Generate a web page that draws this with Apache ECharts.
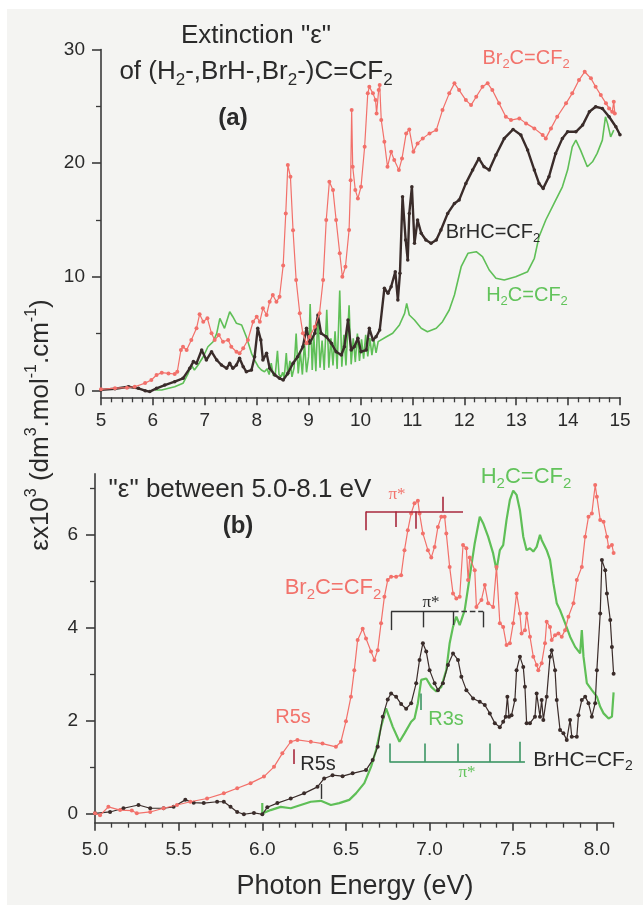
<!DOCTYPE html>
<html><head><meta charset="utf-8">
<script src="https://cdn.jsdelivr.net/npm/echarts@6/dist/echarts.min.js"></script>
<style>
html,body{margin:0;padding:0;background:#ffffff;width:643px;height:905px;overflow:hidden}
#c{position:absolute;left:7px;top:9px;width:636px;height:896px}
</style></head>
<body><div id="c"></div>
<script>
// ---------- Panel (a) data: Photon energy (eV), extinction x10^3 ----------
const a_Br2 = [[5.0,0.1],[5.27,0.2],[5.5,0.25],[5.65,0.33],[5.85,0.65],[5.97,0.92],[6.07,1.36],[6.17,1.57],[6.3,1.5],[6.42,1.45],[6.47,1.65],[6.54,3.56],[6.58,3.85],[6.65,3.56],[6.74,4.44],[6.84,5.47],[6.9,6.7],[6.97,6.05],[7.05,6.35],[7.13,5.03],[7.19,4.44],[7.27,4.88],[7.35,4.29],[7.45,4.44],[7.51,3.85],[7.61,3.41],[7.67,3.27],[7.74,3.71],[7.83,4.44],[7.93,6.05],[8.0,6.49],[8.06,6.05],[8.12,7.23],[8.19,6.64],[8.25,7.81],[8.31,8.4],[8.38,7.8],[8.44,8.25],[8.51,11.0],[8.56,15.58],[8.6,19.83],[8.65,18.8],[8.7,14.1],[8.76,9.72],[8.83,6.79],[8.89,5.03],[8.96,4.15],[9.02,4.73],[9.12,5.61],[9.21,6.79],[9.28,9.72],[9.34,15.0],[9.4,18.37],[9.47,17.63],[9.53,15.0],[9.6,12.07],[9.65,10.01],[9.71,10.89],[9.78,14.12],[9.81,18.5],[9.83,24.67],[9.85,19.68],[9.9,17.63],[9.95,16.9],[10.01,17.92],[10.08,21.44],[10.14,26.14],[10.17,26.72],[10.24,26.14],[10.29,25.55],[10.31,24.38],[10.35,26.43],[10.37,26.87],[10.4,23.79],[10.46,21.88],[10.52,19.68],[10.59,21.0],[10.65,20.27],[10.74,19.39],[10.8,20.42],[10.88,22.62],[10.94,22.97],[11.02,21.0],[11.1,21.74],[11.2,22.18],[11.33,22.62],[11.46,22.91],[11.58,24.67],[11.71,26.14],[11.81,27.02],[11.9,26.43],[12.03,25.55],[12.13,25.11],[12.23,25.84],[12.35,26.72],[12.45,27.02],[12.54,26.43],[12.67,25.26],[12.8,24.08],[12.9,23.79],[13.06,23.94],[13.19,23.5],[13.35,23.06],[13.51,22.47],[13.57,22.18],[13.67,23.06],[13.79,24.08],[13.96,25.26],[14.08,26.14],[14.21,27.31],[14.32,28.04],[14.44,27.46],[14.53,26.72],[14.63,25.99],[14.73,25.26],[14.79,24.82],[14.85,24.52],[14.88,25.4],[14.9,24.38]];
const a_BrH = [[5.0,0.05],[5.27,0.15],[5.53,0.33],[5.72,0.19],[5.85,-0.02],[5.94,-0.1],[6.07,0.19],[6.23,0.48],[6.42,0.77],[6.58,1.07],[6.71,1.95],[6.78,2.54],[6.84,2.39],[6.94,3.56],[7.03,2.68],[7.13,3.41],[7.23,2.68],[7.32,2.24],[7.42,1.95],[7.48,2.39],[7.54,1.95],[7.61,2.24],[7.67,2.83],[7.74,2.09],[7.8,1.65],[7.9,1.8],[7.96,2.97],[8.02,5.47],[8.08,4.44],[8.12,2.68],[8.19,3.27],[8.25,1.95],[8.35,1.36],[8.44,1.07],[8.51,0.92],[8.6,1.51],[8.7,2.39],[8.79,2.97],[8.89,3.85],[8.96,5.47],[9.02,4.15],[9.12,5.03],[9.18,6.64],[9.24,5.03],[9.34,4.73],[9.44,4.15],[9.53,3.41],[9.63,3.12],[9.69,3.85],[9.76,6.2],[9.82,3.56],[9.88,3.85],[9.95,4.59],[10.01,3.41],[10.11,3.56],[10.17,5.47],[10.24,4.44],[10.3,4.73],[10.37,5.32],[10.46,8.99],[10.53,8.55],[10.59,9.13],[10.67,10.45],[10.72,7.96],[10.76,10.31],[10.81,17.04],[10.87,13.24],[10.91,11.48],[10.94,15.58],[10.99,17.92],[11.04,12.95],[11.1,14.99],[11.17,13.83],[11.26,13.24],[11.36,12.95],[11.46,13.24],[11.55,14.12],[11.68,15.58],[11.81,16.46],[11.9,16.75],[12.03,18.22],[12.16,19.39],[12.28,20.42],[12.38,19.68],[12.48,19.39],[12.61,20.71],[12.77,22.18],[12.94,22.97],[13.09,22.47],[13.22,21.15],[13.35,19.39],[13.44,18.22],[13.52,17.78],[13.63,18.8],[13.76,20.86],[13.89,22.18],[13.99,22.76],[14.15,22.76],[14.28,23.35],[14.41,24.52],[14.53,24.96],[14.66,24.82],[14.79,24.08],[14.92,23.2],[15.0,22.5]];
const a_H2 = [[6.04,0.04],[6.17,0.04],[6.42,0.33],[6.58,0.63],[6.68,1.51],[6.74,2.24],[6.8,1.8],[6.87,2.24],[6.97,2.97],[7.06,3.85],[7.16,4.29],[7.23,5.03],[7.29,6.35],[7.38,5.47],[7.48,6.93],[7.54,6.49],[7.61,5.91],[7.71,5.76],[7.8,4.73],[7.9,3.27],[7.96,2.68],[8.03,2.09],[8.09,1.8],[8.15,1.65],[8.2,1.9],[8.24,1.4],[8.28,2.4],[8.32,1.3],[8.36,1.5],[8.4,3.5],[8.43,1.4],[8.47,1.2],[8.5,1.6],[8.53,1.1],[8.57,3.3],[8.6,1.3],[8.64,2.6],[8.68,1.2],[8.72,2.0],[8.76,5.0],[8.8,1.5],[8.84,3.4],[8.88,1.4],[8.92,4.2],[8.96,1.6],[9.0,3.0],[9.03,7.6],[9.07,1.8],[9.1,4.8],[9.14,1.7],[9.18,6.8],[9.22,2.0],[9.26,4.4],[9.3,1.8],[9.35,7.1],[9.39,2.0],[9.43,4.6],[9.47,2.2],[9.51,5.2],[9.55,1.9],[9.6,8.8],[9.64,2.1],[9.68,4.9],[9.72,2.2],[9.78,7.5],[9.82,2.3],[9.86,4.6],[9.9,2.5],[9.94,5.0],[9.98,2.6],[10.02,4.5],[10.06,2.8],[10.1,4.9],[10.14,3.0],[10.18,4.6],[10.22,3.1],[10.26,4.4],[10.3,3.3],[10.34,4.3],[10.37,4.15],[10.5,4.73],[10.62,5.03],[10.75,5.76],[10.85,6.79],[10.89,7.67],[10.94,6.64],[11.04,6.2],[11.17,5.47],[11.29,5.17],[11.46,5.47],[11.58,6.05],[11.71,7.08],[11.81,8.4],[11.94,10.89],[12.07,12.07],[12.23,12.21],[12.35,11.77],[12.48,10.6],[12.61,9.87],[12.77,9.72],[12.99,10.01],[13.22,10.45],[13.35,11.63],[13.44,13.53],[13.57,15.0],[13.73,16.46],[13.89,17.92],[13.99,19.39],[14.08,21.44],[14.15,22.03],[14.24,21.15],[14.37,19.68],[14.47,20.12],[14.56,20.86],[14.66,22.03],[14.72,24.08],[14.76,23.5],[14.82,22.32],[14.88,22.91]];

// ---------- Panel (b) data ----------
const b_Br2 = [[5.0,0.0],[5.03,-0.04],[5.08,0.14],[5.15,0.07],[5.22,0.06],[5.25,0.0],[5.33,0.03],[5.41,0.11],[5.49,0.18],[5.57,0.25],[5.67,0.32],[5.77,0.43],[5.85,0.54],[5.93,0.65],[6.01,0.79],[6.07,1.0],[6.12,1.29],[6.17,1.54],[6.21,1.58],[6.29,1.54],[6.36,1.5],[6.44,1.43],[6.47,1.54],[6.5,1.98],[6.53,2.51],[6.55,3.08],[6.57,3.73],[6.6,3.97],[6.62,3.76],[6.65,3.48],[6.67,3.3],[6.69,3.51],[6.71,4.09],[6.73,4.66],[6.75,5.02],[6.77,5.09],[6.8,5.09],[6.83,5.12],[6.85,5.66],[6.87,6.09],[6.89,6.45],[6.91,6.67],[6.93,6.72],[6.94,6.45],[6.96,6.02],[6.99,5.66],[7.01,5.5],[7.03,5.73],[7.05,6.16],[7.07,6.38],[7.09,6.38],[7.1,6.02],[7.12,5.3],[7.14,4.73],[7.16,4.62],[7.18,4.66],[7.2,5.77],[7.22,5.7],[7.23,5.02],[7.24,5.5],[7.27,5.23],[7.28,4.44],[7.31,4.59],[7.33,4.91],[7.35,4.52],[7.38,4.44],[7.4,5.3],[7.42,4.09],[7.44,4.01],[7.46,3.62],[7.48,3.66],[7.5,4.09],[7.52,4.73],[7.54,4.3],[7.55,3.87],[7.57,3.94],[7.58,4.3],[7.6,3.8],[7.62,3.37],[7.64,3.19],[7.65,3.08],[7.67,3.23],[7.69,3.66],[7.7,4.12],[7.72,4.01],[7.73,3.73],[7.75,3.83],[7.77,3.87],[7.79,3.8],[7.81,3.94],[7.83,4.23],[7.86,4.52],[7.88,5.02],[7.91,5.3],[7.93,5.95],[7.95,6.38],[7.97,6.45],[7.99,7.06],[8.0,6.81],[8.02,6.31],[8.04,6.27],[8.06,5.95],[8.07,5.73],[8.09,5.77],[8.1,5.6]];
const b_BrH = [[5.0,0.0],[5.09,0.03],[5.17,0.11],[5.26,0.18],[5.33,0.11],[5.41,0.11],[5.47,0.14],[5.54,0.29],[5.59,0.23],[5.65,0.22],[5.73,0.25],[5.77,0.25],[5.81,0.14],[5.85,0.03],[5.89,-0.02],[5.95,0.01],[6.0,-0.02],[6.03,0.13],[6.09,0.22],[6.17,0.32],[6.25,0.43],[6.33,0.57],[6.37,0.75],[6.42,0.82],[6.48,0.8],[6.54,0.86],[6.62,0.93],[6.66,1.15],[6.69,1.43],[6.72,2.08],[6.75,2.45],[6.77,2.58],[6.8,2.51],[6.83,2.35],[6.86,2.25],[6.89,2.37],[6.92,2.8],[6.94,3.3],[6.96,3.66],[6.98,3.48],[7.0,3.08],[7.03,2.8],[7.05,2.65],[7.08,2.8],[7.11,3.19],[7.14,3.44],[7.17,3.3],[7.19,2.94],[7.22,2.65],[7.26,2.47],[7.3,2.4],[7.33,2.33],[7.36,2.15],[7.39,1.94],[7.42,1.85],[7.44,1.97],[7.455,2.08],[7.465,2.51],[7.475,2.08],[7.49,2.11],[7.51,2.44],[7.52,3.08],[7.54,3.37],[7.56,3.15],[7.57,2.72],[7.58,1.94],[7.6,1.94],[7.63,2.08],[7.64,2.58],[7.66,2.08],[7.67,2.44],[7.68,2.01],[7.7,2.51],[7.72,3.37],[7.73,3.51],[7.75,3.08],[7.76,2.44],[7.78,1.79],[7.8,1.72],[7.82,1.58],[7.84,2.01],[7.85,1.65],[7.88,1.65],[7.89,2.11],[7.91,2.44],[7.93,2.51],[7.95,2.37],[7.97,2.08],[7.99,2.37],[8.0,3.08],[8.02,4.3],[8.03,5.45],[8.05,5.23],[8.06,4.73],[8.08,4.16],[8.09,3.58],[8.1,3.0]];
const b_H2 = [[6.0,0.22],[6.0,0.0],[6.05,0.07],[6.11,0.14],[6.17,0.11],[6.23,0.18],[6.29,0.25],[6.35,0.27],[6.41,0.18],[6.46,0.22],[6.52,0.29],[6.56,0.43],[6.61,0.65],[6.65,1.0],[6.68,1.36],[6.71,1.86],[6.74,2.26],[6.78,1.86],[6.82,1.54],[6.85,1.72],[6.89,1.97],[6.91,2.04],[6.93,2.37],[6.95,2.87],[6.98,2.9],[7.01,2.72],[7.04,2.62],[7.07,2.72],[7.1,3.08],[7.12,3.66],[7.14,4.01],[7.16,4.23],[7.18,4.05],[7.21,4.37],[7.24,5.09],[7.27,5.81],[7.3,6.38],[7.32,6.24],[7.35,5.95],[7.38,5.59],[7.4,5.23],[7.42,5.66],[7.44,5.77],[7.46,6.31],[7.48,6.74],[7.5,6.94],[7.52,6.85],[7.54,6.52],[7.56,5.95],[7.58,5.66],[7.6,5.7],[7.62,5.63],[7.64,5.73],[7.66,5.99],[7.67,5.88],[7.7,5.66],[7.72,5.45],[7.74,4.95],[7.76,4.52],[7.78,4.37],[7.81,4.09],[7.84,3.8],[7.87,3.58],[7.9,3.44],[7.91,3.94],[7.92,3.37],[7.94,2.8],[7.97,2.65],[8.0,2.51],[8.02,2.29],[8.04,2.15],[8.07,2.04],[8.09,2.08],[8.1,2.6]];

// progression markers (pi*, R5s, R3s) in data units: [[x1,y1],[x2,y2]]
const markRed = [[[6.62,6.09],[6.62,6.49]],[[6.62,6.49],[7.2,6.49]],[[6.8,6.49],[6.8,6.16]],[[6.92,6.49],[6.92,6.12]],[[7.08,6.49],[7.08,6.81]],[[6.19,1.38],[6.19,1.06]]];
const markBlack = [[[6.77,3.94],[6.77,4.34]],[[6.77,4.34],[7.14,4.34]],[[6.96,4.34],[6.96,4.0]],[[7.14,4.34],[7.14,4.05]],[[7.32,4.34],[7.32,4.0]],[[6.35,0.63],[6.35,0.31]]];
const markBlackDashed = [[[7.14,4.34],[7.32,4.34]]];
const markGreen = [[[6.76,1.11],[7.57,1.11]],[[6.76,1.11],[6.76,1.5]],[[6.97,1.11],[6.97,1.5]],[[7.17,1.11],[7.17,1.5]],[[7.36,1.11],[7.36,1.5]],[[7.54,1.11],[7.54,1.54]],[[6.95,2.58],[6.95,2.22]]];

// ticks
const aXTicks = [5,6,7,8,9,10,11,12,13,14,15];
const aXMinor = [5.2,5.4,5.6,5.8,6.2,6.4,6.6,6.8,7.2,7.4,7.6,7.8,8.2,8.4,8.6,8.8,9.2,9.4,9.6,9.8,10.2,10.4,10.6,10.8,11.2,11.4,11.6,11.8,12.2,12.4,12.6,12.8,13.2,13.4,13.6,13.8,14.2,14.4,14.6,14.8];
const aYTicks = [0,10,20,30];
const aYMinor = [5,15,25];
const bXTicks = [5.0,5.5,6.0,6.5,7.0,7.5,8.0];
const bXMinor = [5.1,5.2,5.3,5.4,5.6,5.7,5.8,5.9,6.1,6.2,6.3,6.4,6.6,6.7,6.8,6.9,7.1,7.2,7.3,7.4,7.6,7.7,7.8,7.9,8.1];
const bYTicks = [0,2,4,6];
const bYMinor = [1,3,5,7];

// ---------- styling ----------
const OX = 7, OY = 9;
const FONT = "'Liberation Sans', Arial, Helvetica, sans-serif";
const SERIF = "'Liberation Serif', 'Times New Roman', serif";
const RED = '#f2706a', BLK = '#3a2c2a', GRN = '#5fbf57';
const RED_T = '#f2736c', GRN_T = '#62c35b', TXT = '#2a2a2a', AX = '#3a3a3a';
const MK_RED = '#a8283c', MK_GRN = '#2f8f5a', MK_BLK = '#333333';

function richFor(F, color, bold, family) {
  const fam = family || FONT;
  const w = bold ? 'bold ' : '';
  return {
    n: {font: w + F + 'px ' + fam, fill: color, lineHeight: Math.round(F * 1.3)},
    s: {font: w + Math.round(F * 0.66) + 'px ' + fam, fill: color, verticalAlign: 'bottom', lineHeight: Math.round(F * 0.66)},
    p: {font: w + Math.round(F * 0.62) + 'px ' + fam, fill: color, verticalAlign: 'top', lineHeight: Math.round(F * 0.62)}
  };
}
function txt(px, py, str, F, color, opt) {
  opt = opt || {};
  return {
    type: 'text', x: px - OX, y: py - OY, rotation: opt.rot || 0, silent: true, z: 100,
    style: {
      x: 0, y: 0, text: str, fill: color,
      font: (opt.bold ? 'bold ' : '') + F + 'px ' + (opt.family || FONT),
      align: 'center', verticalAlign: 'middle', textAlign: 'center', textVerticalAlign: 'middle',
      rich: richFor(F, color, opt.bold, opt.family)
    }
  };
}
function marks(segs, color, width, type) {
  return segs.map(s => [{coord: s[0], lineStyle: {color: color, width: width, type: type || 'solid'}}, {coord: s[1]}]);
}

const axisLabelBase = {fontSize: 19, color: TXT, fontFamily: FONT};
function majorX(grid, min, max, ticks, margin, fmt) {
  return {gridIndex: grid, type: 'value', min: min, max: max, position: 'bottom',
    axisLine: {show: true, onZero: false, lineStyle: {color: AX, width: 1.6}},
    axisTick: {show: true, customValues: ticks, length: 8, lineStyle: {color: AX, width: 1.6}},
    axisLabel: Object.assign({customValues: ticks, margin: margin, formatter: fmt}, axisLabelBase),
    splitLine: {show: false}, minorTick: {show: false}};
}
function minorX(grid, min, max, ticks) {
  return {gridIndex: grid, type: 'value', min: min, max: max, position: 'bottom',
    axisLine: {show: false, onZero: false},
    axisTick: {show: true, customValues: ticks, length: 5, lineStyle: {color: AX, width: 1.3}},
    axisLabel: {show: false}, splitLine: {show: false}};
}
function majorY(grid, min, max, ticks, margin) {
  return {gridIndex: grid, type: 'value', min: min, max: max, position: 'left',
    axisLine: {show: true, onZero: false, lineStyle: {color: AX, width: 1.6}},
    axisTick: {show: true, customValues: ticks, length: 9, lineStyle: {color: AX, width: 1.6}},
    axisLabel: Object.assign({customValues: ticks, margin: margin}, axisLabelBase),
    splitLine: {show: false}};
}
function minorY(grid, min, max, ticks) {
  return {gridIndex: grid, type: 'value', min: min, max: max, position: 'left',
    axisLine: {show: false, onZero: false},
    axisTick: {show: true, customValues: ticks, length: 5, lineStyle: {color: AX, width: 1.3}},
    axisLabel: {show: false}, splitLine: {show: false}};
}

const chart = echarts.init(document.getElementById('c'), null, {renderer: 'canvas'});
chart.setOption({
  animation: false,
  backgroundColor: '#f4f4f2',
  grid: [
    {left: 101 - OX, top: 49.5 - OY, width: 519, height: 347.8, outerBoundsMode: 'none', containLabel: false},
    {left: 95 - OX, top: 473.9 - OY, width: 518.6, height: 348.75, outerBoundsMode: 'none', containLabel: false}
  ],
  xAxis: [
    majorX(0, 5, 15, aXTicks, 14),
    minorX(0, 5, 15, aXMinor),
    majorX(1, 5, 8.1, bXTicks, 18, v => v.toFixed(1)),
    minorX(1, 5, 8.1, bXMinor)
  ],
  yAxis: [
    majorY(0, -0.6, 30, aYTicks, 16),
    minorY(0, -0.6, 30, aYMinor),
    majorY(1, -0.2, 7.3, bYTicks, 17),
    minorY(1, -0.2, 7.3, bYMinor)
  ],
  series: [
    {name: 'H2C=CF2 (a)', type: 'line', xAxisIndex: 0, yAxisIndex: 0, data: a_H2, showSymbol: false,
      lineStyle: {color: GRN, width: 1.6}, itemStyle: {color: GRN}, z: 2},
    {name: 'BrHC=CF2 (a)', type: 'line', xAxisIndex: 0, yAxisIndex: 0, data: a_BrH, symbol: 'circle', symbolSize: 3.5,
      lineStyle: {color: BLK, width: 2.4}, itemStyle: {color: BLK}, z: 3},
    {name: 'Br2C=CF2 (a)', type: 'line', xAxisIndex: 0, yAxisIndex: 0, data: a_Br2, symbol: 'circle', symbolSize: 4,
      lineStyle: {color: RED, width: 1.2}, itemStyle: {color: RED}, z: 4},
    {name: 'H2C=CF2 (b)', type: 'line', xAxisIndex: 2, yAxisIndex: 2, data: b_H2, showSymbol: false,
      lineStyle: {color: GRN, width: 2.2}, itemStyle: {color: GRN}, z: 2,
      markLine: {silent: true, symbol: ['none', 'none'], label: {show: false}, animation: false,
        data: marks(markGreen, MK_GRN, 1.5)}},
    {name: 'BrHC=CF2 (b)', type: 'line', xAxisIndex: 2, yAxisIndex: 2, data: b_BrH, symbol: 'circle', symbolSize: 4,
      lineStyle: {color: BLK, width: 1.2}, itemStyle: {color: BLK}, z: 3,
      markLine: {silent: true, symbol: ['none', 'none'], label: {show: false}, animation: false,
        data: marks(markBlack, MK_BLK, 1.4).concat(marks(markBlackDashed, MK_BLK, 1.4, 'dashed'))}},
    {name: 'Br2C=CF2 (b)', type: 'line', xAxisIndex: 2, yAxisIndex: 2, data: b_Br2, symbol: 'circle', symbolSize: 4,
      lineStyle: {color: RED, width: 1.2}, itemStyle: {color: RED}, z: 4,
      markLine: {silent: true, symbol: ['none', 'none'], label: {show: false}, animation: false,
        data: marks(markRed, MK_RED, 1.6)}}
  ],
  graphic: {elements: [
    txt(256, 36, '{n|Extinction "ε"}', 26, TXT),
    txt(256, 72, '{n|of (H}{s|2}{n|-,BrH-,Br}{s|2}{n|-)C=CF}{s|2}', 26, TXT),
    txt(233, 118, '{n|(a)}', 24, TXT, {bold: true}),
    txt(526, 58, '{n|Br}{s|2}{n|C=CF}{s|2}', 20, RED_T),
    txt(493, 232, '{n|BrHC=CF}{s|2}', 20, TXT),
    txt(527, 295, '{n|H}{s|2}{n|C=CF}{s|2}', 20, GRN_T),
    txt(240, 490, '{n|"ε" between 5.0-8.1 eV}', 26, TXT),
    txt(238, 526, '{n|(b)}', 24, TXT, {bold: true}),
    txt(526, 477, '{n|H}{s|2}{n|C=CF}{s|2}', 22, GRN_T),
    txt(397, 495, '{n|π*}', 17, RED_T, {family: SERIF}),
    txt(333, 588, '{n|Br}{s|2}{n|C=CF}{s|2}', 22, RED_T),
    txt(431, 603, '{n|π*}', 17, TXT, {family: SERIF}),
    txt(293, 717, '{n|R5s}', 20, RED_T),
    txt(318, 764, '{n|R5s}', 20, TXT),
    txt(446, 719, '{n|R3s}', 20, GRN_T),
    txt(583, 760, '{n|BrHC=CF}{s|2}', 21, TXT),
    txt(467, 773, '{n|π*}', 17, GRN_T, {family: SERIF}),
    txt(41, 425, '{n|εx10}{p|3}{n| (dm}{p|3}{n|.mol}{p|-1}{n|.cm}{p|-1}{n|)}', 26, TXT, {rot: Math.PI / 2}),
    txt(355, 887, '{n|Photon Energy (eV)}', 27, TXT)
  ]}
});
</script></body></html>
